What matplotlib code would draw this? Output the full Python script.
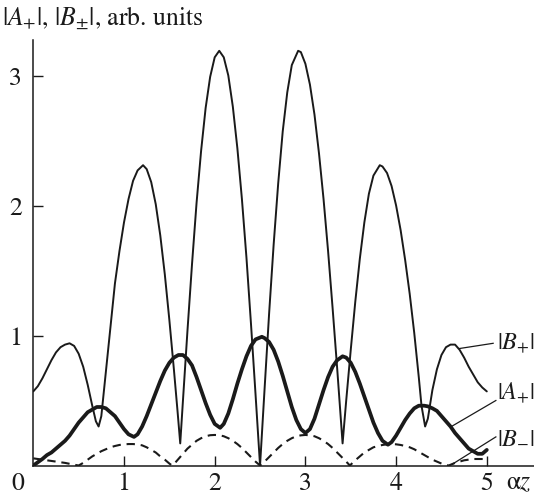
import matplotlib
matplotlib.use("Agg")
import matplotlib.pyplot as plt

plt.rcParams['font.family'] = ['STIXGeneral', 'DejaVu Serif']
plt.rcParams['mathtext.fontset'] = 'stix'

# |B+| (thin solid)
bp_x = [0.00, 0.05, 0.10, 0.15, 0.20, 0.25, 0.30, 0.35, 0.40, 0.45, 0.50, 0.55, 0.60, 0.65, 0.69, 0.72,
        0.75, 0.80, 0.85, 0.90, 0.95, 1.00, 1.05, 1.10, 1.15, 1.21, 1.25, 1.30, 1.35, 1.40, 1.45, 1.50,
        1.55, 1.59, 1.62, 1.65, 1.70, 1.75, 1.80, 1.85, 1.90, 1.95, 2.00, 2.05, 2.10, 2.15, 2.20, 2.25,
        2.30, 2.35, 2.40, 2.45, 2.50, 2.55, 2.60, 2.65, 2.70, 2.75, 2.80, 2.85, 2.92, 2.95, 3.00, 3.05,
        3.10, 3.15, 3.20, 3.25, 3.30, 3.35, 3.38, 3.41, 3.45, 3.50, 3.55, 3.60, 3.65, 3.70, 3.75, 3.82,
        3.85, 3.90, 3.95, 4.00, 4.05, 4.10, 4.15, 4.20, 4.25, 4.28, 4.32, 4.35, 4.40, 4.45, 4.50, 4.55,
        4.60, 4.65, 4.70, 4.75, 4.80, 4.85, 4.90, 4.95, 5.00]
bp_y = [0.57, 0.61, 0.67, 0.74, 0.81, 0.87, 0.91, 0.93, 0.94, 0.92, 0.86, 0.76, 0.62, 0.46, 0.34, 0.30,
        0.38, 0.72, 1.06, 1.40, 1.65, 1.87, 2.05, 2.19, 2.27, 2.31, 2.28, 2.18, 2.01, 1.77, 1.47, 1.12,
        0.74, 0.42, 0.17, 0.50, 1.04, 1.55, 2.02, 2.42, 2.75, 2.99, 3.14, 3.19, 3.14, 3.00, 2.76, 2.44,
        2.05, 1.60, 1.09, 0.55, 0.00, 0.59, 1.17, 1.70, 2.17, 2.57, 2.87, 3.08, 3.19, 3.18, 3.09, 2.93,
        2.70, 2.40, 2.05, 1.65, 1.21, 0.75, 0.46, 0.17, 0.50, 0.89, 1.26, 1.59, 1.87, 2.09, 2.23, 2.31,
        2.30, 2.25, 2.15, 2.00, 1.81, 1.58, 1.32, 1.02, 0.68, 0.46, 0.30, 0.36, 0.58, 0.74, 0.85, 0.91,
        0.93, 0.93, 0.89, 0.83, 0.76, 0.70, 0.64, 0.60, 0.57]

# |A+| (thick solid)
ap_x = [0.00, 0.05, 0.10, 0.15, 0.20, 0.25, 0.30, 0.35, 0.40, 0.45, 0.50, 0.55, 0.60, 0.65, 0.70, 0.75,
        0.80, 0.85, 0.90, 0.95, 1.00, 1.05, 1.11, 1.15, 1.20, 1.25, 1.30, 1.35, 1.40, 1.45, 1.50, 1.55,
        1.60, 1.65, 1.70, 1.75, 1.80, 1.85, 1.90, 1.95, 2.00, 2.06, 2.10, 2.15, 2.20, 2.25, 2.30, 2.35,
        2.40, 2.45, 2.52, 2.55, 2.60, 2.65, 2.70, 2.75, 2.80, 2.85, 2.90, 2.95, 3.00, 3.05, 3.10, 3.15,
        3.20, 3.25, 3.30, 3.35, 3.41, 3.45, 3.50, 3.55, 3.60, 3.65, 3.70, 3.75, 3.80, 3.85, 3.91, 3.95,
        4.00, 4.05, 4.10, 4.15, 4.20, 4.25, 4.31, 4.35, 4.40, 4.45, 4.50, 4.55, 4.60, 4.65, 4.70, 4.75,
        4.80, 4.85, 4.90, 4.95, 5.00]
ap_y = [0.00, 0.025, 0.05, 0.08, 0.10, 0.13, 0.16, 0.19, 0.23, 0.28, 0.33, 0.37, 0.41, 0.43, 0.45, 0.45,
        0.44, 0.41, 0.38, 0.33, 0.28, 0.24, 0.22, 0.24, 0.30, 0.38, 0.47, 0.56, 0.65, 0.73, 0.79, 0.83,
        0.85, 0.85, 0.82, 0.77, 0.68, 0.58, 0.48, 0.39, 0.32, 0.29, 0.32, 0.40, 0.51, 0.63, 0.74, 0.84,
        0.92, 0.97, 0.99, 0.98, 0.95, 0.89, 0.80, 0.69, 0.57, 0.45, 0.35, 0.28, 0.25, 0.28, 0.36, 0.47,
        0.58, 0.68, 0.76, 0.81, 0.84, 0.83, 0.79, 0.72, 0.63, 0.53, 0.43, 0.33, 0.25, 0.19, 0.16, 0.18,
        0.23, 0.29, 0.35, 0.40, 0.44, 0.46, 0.46, 0.455, 0.44, 0.42, 0.38, 0.34, 0.30, 0.25, 0.21, 0.17,
        0.13, 0.11, 0.09, 0.09, 0.12]

# |B-| (dashed)
bm_x = [0.00, 0.05, 0.10, 0.15, 0.20, 0.25, 0.30, 0.35, 0.40, 0.45, 0.50, 0.55, 0.60, 0.65, 0.70, 0.75,
        0.80, 0.85, 0.90, 0.95, 1.00, 1.05, 1.10, 1.15, 1.20, 1.25, 1.30, 1.35, 1.40, 1.45, 1.50, 1.53,
        1.55, 1.60, 1.65, 1.70, 1.75, 1.80, 1.85, 1.90, 1.95, 2.00, 2.05, 2.10, 2.15, 2.20, 2.25, 2.30,
        2.35, 2.40, 2.45, 2.50, 2.55, 2.60, 2.65, 2.70, 2.75, 2.80, 2.85, 2.90, 2.95, 3.00, 3.05, 3.10,
        3.15, 3.20, 3.25, 3.30, 3.35, 3.40, 3.45, 3.49, 3.55, 3.60, 3.65, 3.70, 3.75, 3.80, 3.85, 3.90,
        3.95, 4.00, 4.05, 4.10, 4.15, 4.20, 4.25, 4.30, 4.35, 4.40, 4.45, 4.50, 4.58, 4.65, 4.70, 4.75,
        4.80, 4.85, 4.90, 4.95, 5.00]
bm_y = [0.055, 0.05, 0.045, 0.04, 0.035, 0.03, 0.025, 0.02, 0.013, 0.006, 0.00, 0.02, 0.045, 0.07, 0.09, 0.11,
        0.125, 0.14, 0.15, 0.158, 0.163, 0.165, 0.165, 0.162, 0.155, 0.14, 0.12, 0.10, 0.07, 0.045, 0.015, 0.00,
        0.01, 0.05, 0.09, 0.13, 0.16, 0.19, 0.21, 0.225, 0.233, 0.235, 0.233, 0.225, 0.21, 0.19, 0.165, 0.135,
        0.10, 0.065, 0.03, 0.00, 0.03, 0.065, 0.10, 0.135, 0.165, 0.19, 0.21, 0.225, 0.232, 0.235, 0.232, 0.225,
        0.21, 0.19, 0.165, 0.135, 0.10, 0.065, 0.03, 0.00, 0.04, 0.07, 0.10, 0.12, 0.14, 0.15, 0.158, 0.163,
        0.165, 0.163, 0.158, 0.15, 0.14, 0.125, 0.105, 0.085, 0.065, 0.045, 0.03, 0.015, 0.00, 0.02, 0.03, 0.04,
        0.045, 0.05, 0.05, 0.05, 0.05]

xticks = [1, 2, 3, 4, 5]
yticks = [1, 2, 3]

fig = plt.figure(figsize=(5.34, 4.99), dpi=100)
ax = fig.add_axes([33.3 / 534, (499 - 465.5) / 499, 1 - 33.3 / 534, (465.5 - 40) / 499])

ax.plot(bp_x, bp_y, color='#1a1a1a', lw=1.4, solid_capstyle='round')
ax.plot(ap_x, ap_y, color='#1a1a1a', lw=2.7, solid_capstyle='round')
ax.plot(bm_x, bm_y, color='#1a1a1a', lw=1.5, dashes=(4, 2.8))

ax.set_xlim(0, (534 - 33.3) / 90.7)
ax.set_ylim(0, (465.5 - 40) / 130)

for s in ['top', 'right']:
    ax.spines[s].set_visible(False)
for s in ['left', 'bottom']:
    ax.spines[s].set_linewidth(1.1)
    ax.spines[s].set_color('#1a1a1a')

ax.set_xticks(xticks)
ax.set_yticks(yticks)
ax.set_xticklabels([str(t) for t in xticks])
ax.set_yticklabels([str(t) for t in yticks])
ax.tick_params(direction='in', length=7, width=1.0, labelsize=18.5, colors='#1a1a1a', pad=5)
ax.tick_params(axis='y', pad=8)

ax.text(-0.17, -0.14, "0", fontsize=18.5, ha='center', va='center', clip_on=False, color='#1a1a1a')
ax.text(5.21, -0.14, "α$z$", fontsize=18.5, ha='left', va='center', clip_on=False, color='#1a1a1a')

fig.text(0.004, 1 - 18 / 499, r"$|A_{+}|$, $|B_{\pm}|$, arb. units", fontsize=18.5,
         ha='left', va='center', color='#1a1a1a')

# curve labels with leader lines
ax.plot([4.70, 5.07], [0.90, 0.94], color='#1a1a1a', lw=0.9)
ax.plot([4.61, 5.10], [0.30, 0.50], color='#1a1a1a', lw=0.9)
ax.plot([4.62, 5.10], [0.01, 0.22], color='#1a1a1a', lw=0.9)
ax.text(5.11, 0.94, r"$|B_{+}|$", fontsize=17.5, ha='left', va='center', color='#1a1a1a', clip_on=False)
ax.text(5.11, 0.56, r"$|A_{+}|$", fontsize=17.5, ha='left', va='center', color='#1a1a1a', clip_on=False)
ax.text(5.11, 0.22, r"$|B_{-}|$", fontsize=17.5, ha='left', va='center', color='#1a1a1a', clip_on=False)

fig.savefig("out.png", dpi=100)
